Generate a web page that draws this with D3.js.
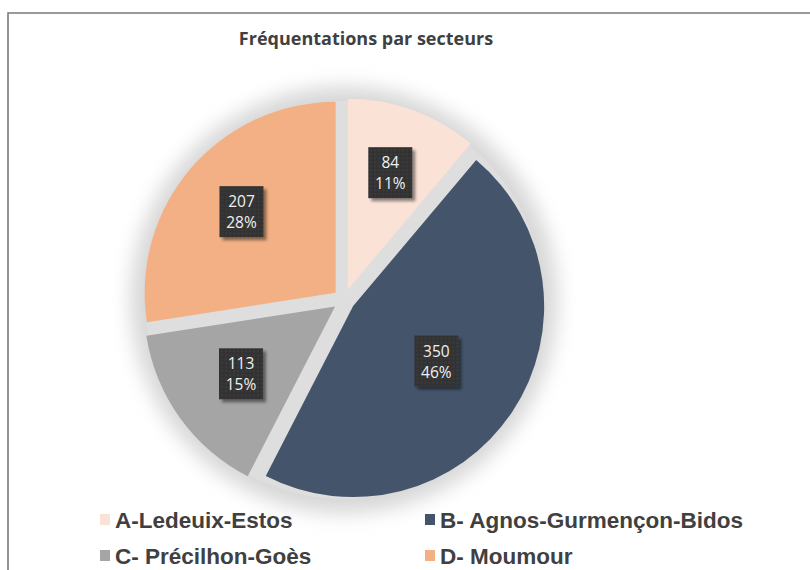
<!DOCTYPE html>
<html>
<head>
<meta charset="utf-8">
<script src="https://cdn.jsdelivr.net/npm/d3@7"></script>
<style>
  body { margin: 0; background: #fff; }
  svg { display: block; }
</style>
</head>
<body>
<script>
// Data
const sectors = ["A-Ledeuix-Estos", "B- Agnos-Gurmençon-Bidos", "C- Précilhon-Goès", "D- Moumour"];
const visits = [84, 350, 113, 207];
const shares = ["11%", "46%", "15%", "28%"];
const title = "Fréquentations par secteurs";

const palette = ["#fbe2d7", "#44546a", "#a5a5a5", "#f2b084"];

//////////////////////////////////////////////////

const width = 810;
const height = 570;
const cx = 344, cy = 300, radius = 191, explode = 11;
const labelDist = [124, 100, 116, 124];

const svg = d3.select("body").append("svg")
  .attr("width", width)
  .attr("height", height);

const defs = svg.append("defs");

defs.append("filter").attr("id", "halo")
  .attr("x", "-30%").attr("y", "-30%").attr("width", "160%").attr("height", "160%")
  .append("feGaussianBlur").attr("stdDeviation", 10);

const shadow = defs.append("filter").attr("id", "shadow")
  .attr("x", "-30%").attr("y", "-30%").attr("width", "170%").attr("height", "170%");
shadow.append("feGaussianBlur").attr("in", "SourceAlpha").attr("stdDeviation", 1.6).attr("result", "b");
shadow.append("feOffset").attr("in", "b").attr("dx", 2.5).attr("dy", 2.5).attr("result", "o");
shadow.append("feComponentTransfer").attr("in", "o").attr("result", "s")
  .append("feFuncA").attr("type", "linear").attr("slope", 0.45);
const merge = shadow.append("feMerge");
merge.append("feMergeNode").attr("in", "s");
merge.append("feMergeNode").attr("in", "SourceGraphic");

const dots = defs.append("pattern").attr("id", "dots")
  .attr("width", 4).attr("height", 4).attr("patternUnits", "userSpaceOnUse");
dots.append("rect").attr("width", 4).attr("height", 4).attr("fill", "#333333");
dots.append("circle").attr("cx", 1).attr("cy", 1).attr("r", 0.7).attr("fill", "#474747");

// frame
svg.append("path")
  .attr("d", `M8,${height} V13 H${width}`)
  .attr("fill", "none")
  .attr("stroke", "#7a7a7a")
  .attr("stroke-width", 1.6);

// title
svg.append("text")
  .attr("x", 366).attr("y", 45)
  .attr("text-anchor", "middle")
  .style("font-family", "'Open Sans', sans-serif")
  .style("font-weight", 700)
  .style("font-size", "18px")
  .attr("fill", "#404040")
  .text(title);

// pie
const pie = d3.pie().sort(null).value(d => d)(visits);
const arc = d3.arc().innerRadius(0).outerRadius(radius);

const g = svg.append("g").attr("transform", `translate(${cx},${cy})`);

g.append("circle").attr("r", radius + 22).attr("fill", "#d6d6d6").attr("filter", "url(#halo)");
g.append("circle").attr("r", radius + 8).attr("fill", "#dedede");

const offset = (d, dist) => {
  const mid = (d.startAngle + d.endAngle) / 2;
  return [Math.sin(mid) * dist, -Math.cos(mid) * dist];
};

g.selectAll("path.slice")
  .data(pie)
  .join("path")
  .attr("class", "slice")
  .attr("d", arc)
  .attr("fill", (d, i) => palette[i])
  .attr("transform", d => `translate(${offset(d, explode)})`);

// data labels
const labels = g.selectAll("g.lab")
  .data(pie)
  .join("g")
  .attr("class", "lab")
  .attr("transform", (d, i) => {
    const [ex, ey] = offset(d, explode);
    const [lx, ly] = offset(d, labelDist[i]);
    return `translate(${ex + lx},${ey + ly})`;
  });

labels.append("rect")
  .attr("x", -22).attr("y", -26)
  .attr("width", 44).attr("height", 51)
  .attr("fill", "url(#dots)")
  .attr("filter", "url(#shadow)");

labels.append("text")
  .attr("text-anchor", "middle")
  .attr("y", -5)
  .style("font-family", "'Open Sans', sans-serif")
  .style("font-size", "15.5px")
  .attr("fill", "#f0f0f0")
  .text((d, i) => visits[i]);

labels.append("text")
  .attr("text-anchor", "middle")
  .attr("y", 16)
  .style("font-family", "'Open Sans', sans-serif")
  .style("font-size", "15.5px")
  .attr("fill", "#f0f0f0")
  .text((d, i) => shares[i]);

// legend
const legendX = d3.scaleOrdinal().domain([0, 1]).range([100, 425]);
const legendY = d3.scaleOrdinal().domain([0, 1]).range([520, 556]);

const legend = svg.selectAll("g.leg")
  .data(sectors)
  .join("g")
  .attr("class", "leg")
  .attr("transform", (d, i) => `translate(${legendX(i % 2)},${legendY(Math.floor(i / 2))})`);

legend.append("rect")
  .attr("x", 0).attr("y", -6)
  .attr("width", 10).attr("height", 11)
  .attr("fill", (d, i) => palette[i]);

legend.append("text")
  .attr("x", 15).attr("y", 8)
  .style("font-family", "'Liberation Sans', Arial, sans-serif")
  .style("font-weight", "bold")
  .style("font-size", "22.5px")
  .attr("fill", "#404040")
  .text(d => d);
</script>
</body>
</html>
